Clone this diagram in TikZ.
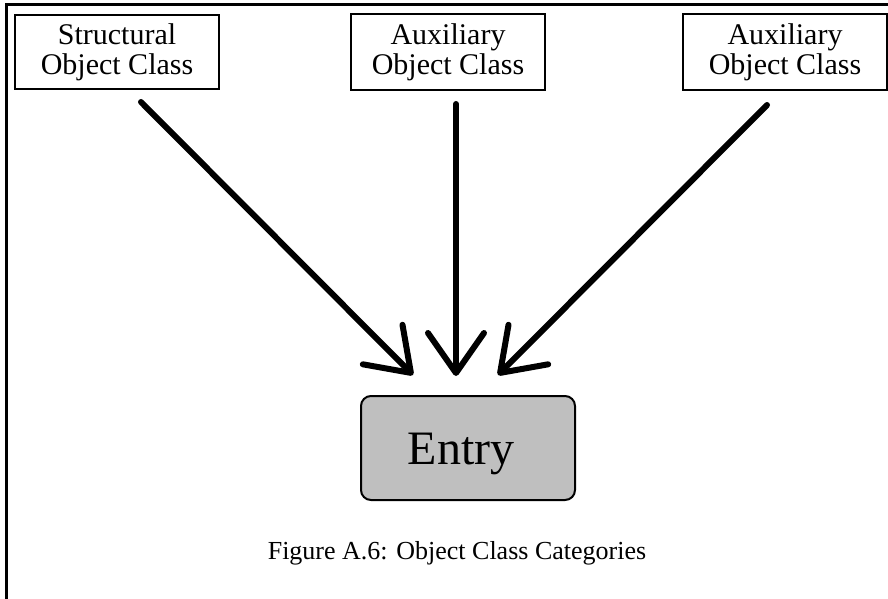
\documentclass[tikz,border=0pt]{standalone}
\usepackage{fontspec}
\setmainfont{Liberation Serif}
\usetikzlibrary{arrows.meta,calc}
\begin{document}
\begin{tikzpicture}[x=1pt,y=-1pt,
  classbox/.style={draw,line width=2pt,rectangle,inner sep=0pt,align=center,
    font=\fontsize{30}{30}\selectfont},
  entrybox/.style={draw,line width=2pt,rectangle,rounded corners=10pt,fill=black!25,
    inner sep=0pt,font=\fontsize{48}{48}\selectfont},
  feed/.style={line width=6pt,line cap=round,line join=round,
    -{Straight Barb[length=40pt,width=56pt,line width=6pt,line cap=round,line join=round]}}
]
\useasboundingbox (0,0) rectangle (888,599);
% outer frame (left and top edges)
\draw[line width=3pt] (6,602) -- (6,5) -- (892,5);

% object class boxes
\node[classbox,minimum width=204pt,minimum height=74pt] (struct) at (117,52)
  {Structural\\Object Class};
\node[classbox,minimum width=194pt,minimum height=76pt] (auxa) at (448,52)
  {Auxiliary\\Object Class};
\node[classbox,minimum width=204pt,minimum height=76pt] (auxb) at (785,52)
  {Auxiliary\\Object Class};

% entry
\node[entrybox,minimum width=214pt,minimum height=104pt] (entry) at (468,448) {};
\node[font=\fontsize{48}{48}\selectfont,inner sep=0pt,anchor=base] (entrytext) at (461,464) {Entry};

% connector end points (y grows downwards)
\coordinate (s1) at ($(struct.south)+(24,12)$);
\coordinate (s2) at ($(auxa.south)+(8,13)$);
\coordinate (s3) at ($(auxb.south)+(-18,14)$);
\coordinate (t1) at ($(entry.north)+(-55,-20)$);
\coordinate (t2) at ($(entry.north)+(-12,-19)$);
\coordinate (t3) at ($(entry.north)+(30,-20)$);

\draw[feed] (s1) -- (t1);
\draw[feed] (s2) -- (t2);
\draw[feed] (s3) -- (t3);

% caption
\node[font=\fontsize{26}{26}\selectfont,inner sep=0pt,anchor=base] (caption) at (457,559)
  {Figure A.6: Object Class Categories};
\end{tikzpicture}
\end{document}
